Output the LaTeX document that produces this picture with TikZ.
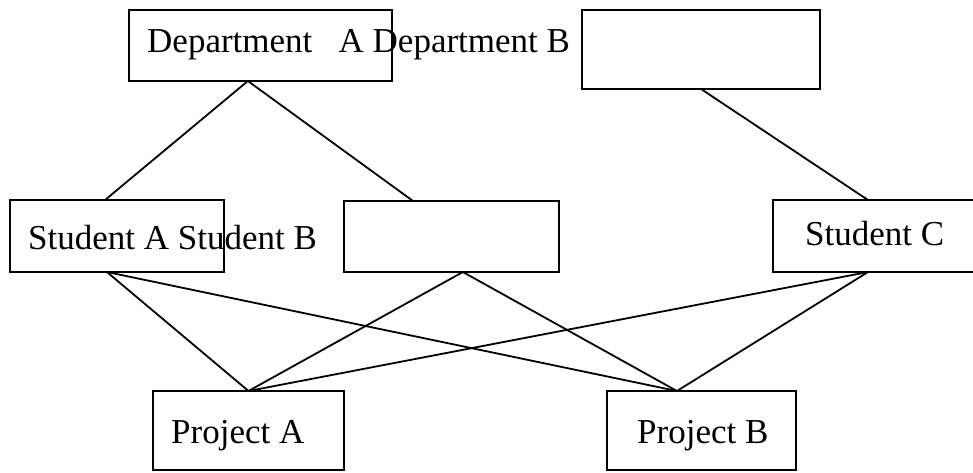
\documentclass[tikz,border=0pt]{standalone}
\usepackage{fontspec}
\setmainfont{Liberation Serif}
\usetikzlibrary{calc}
\tikzset{
  box/.style={draw, line width=2pt, inner sep=0pt, outer sep=0pt, rectangle},
  link/.style={line width=1.8pt},
  lbl/.style={inner sep=0pt, anchor=base west, font=\fontsize{35}{42}\selectfont}
}
\begin{document}
\begin{tikzpicture}[x=1pt, y=-1pt]
\useasboundingbox (0,0) rectangle (973,472);
% boxes
\node[box, minimum width=263pt, minimum height=71pt] (dA) at (260.5,45.5) {};
\node[box, minimum width=238pt, minimum height=79pt] (dB) at (701,49.5) {};
\node[box, minimum width=214pt, minimum height=72pt] (sA) at (117,236) {};
\node[box, minimum width=215pt, minimum height=71pt] (sB) at (451.5,236.5) {};
\node[box, minimum width=207pt, minimum height=72pt] (sC) at (876.5,236) {};
\node[box, minimum width=191pt, minimum height=79pt] (pA) at (248.5,430.5) {};
\node[box, minimum width=189pt, minimum height=79pt] (pB) at (701.5,430.5) {};
% connection points
\coordinate (dAb) at ($(dA.south west)!0.452!(dA.south east)$);
\coordinate (sAt) at ($(sA.north west)!0.444!(sA.north east)$);
\coordinate (sAb) at ($(sA.south west)!0.453!(sA.south east)$);
\coordinate (sBt) at ($(sB.north west)!0.321!(sB.north east)$);
\coordinate (sBb) at ($(sB.south west)!0.553!(sB.south east)$);
\coordinate (sCt) at ($(sC.north west)!0.459!(sC.north east)$);
\coordinate (sCb) at ($(sC.south west)!0.459!(sC.south east)$);
\coordinate (pBt) at ($(pB.north west)!0.37!(pB.north east)$);
% connectors
\draw[link] (dAb) -- (sAt);
\draw[link] (dAb) -- (sBt);
\draw[link] (dB.south) -- (sCt);
\draw[link] (sAb) -- (pA.north);
\draw[link] (sAb) -- (pBt);
\draw[link] (sBb) -- (pA.north);
\draw[link] (sBb) -- (pBt);
\draw[link] (sCb) -- (pA.north);
\draw[link] (sCb) -- (pBt);
% labels
\node[lbl] (tD) at (147,52) {Department\ \ \ A Department B};
\node[lbl] (tS) at (28,249) {Student A Student B};
\node[lbl] (tC) at (805,245) {Student C};
\node[lbl] (tPA) at (171,443) {Project A};
\node[lbl] (tPB) at (637,443) {Project B};
\end{tikzpicture}
\end{document}
